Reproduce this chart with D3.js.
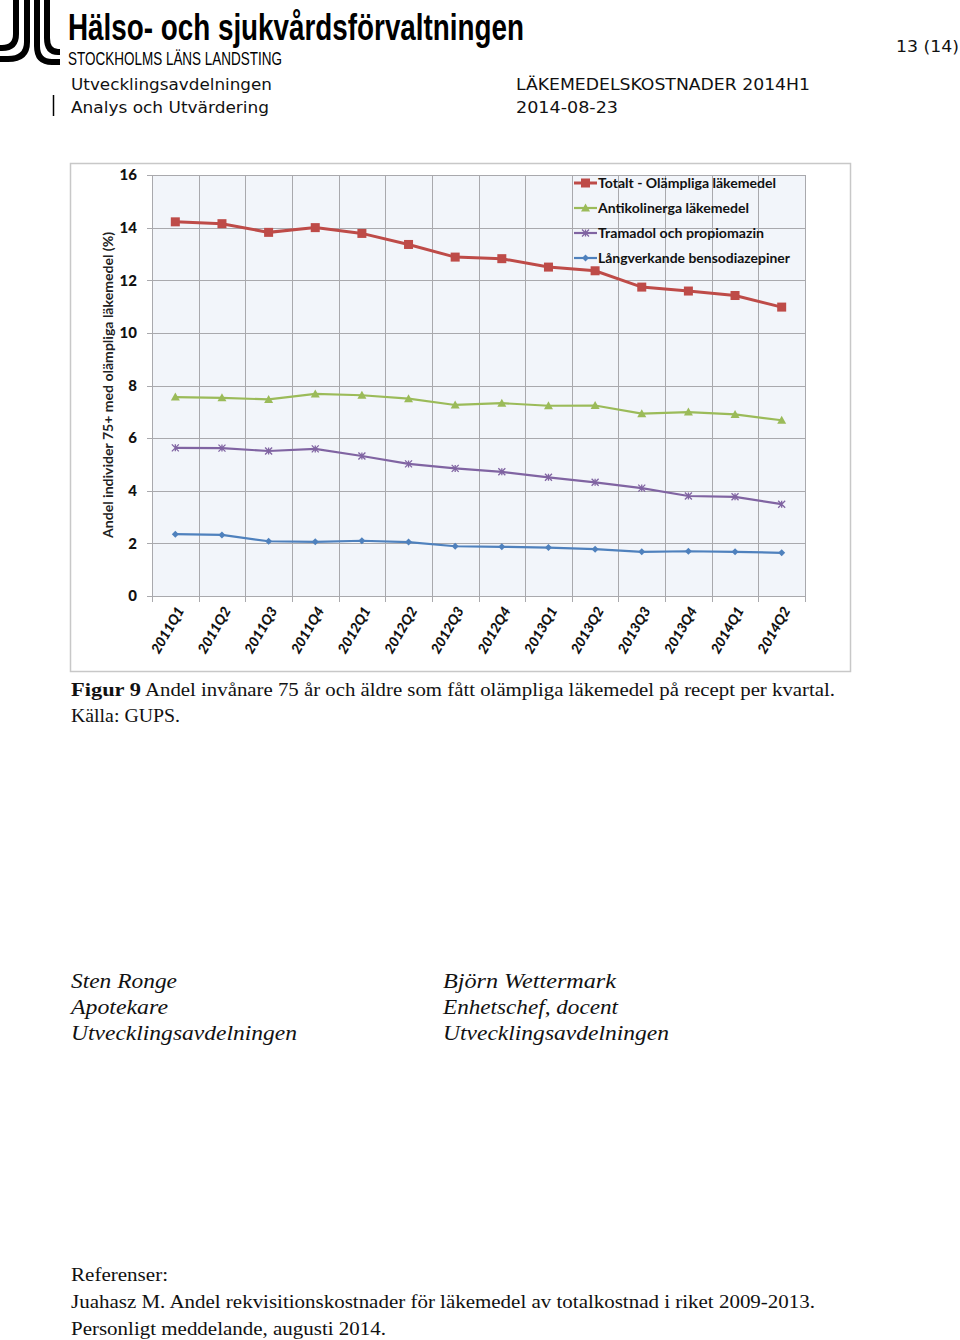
<!DOCTYPE html>
<html><head><meta charset="utf-8">
<script src="https://cdn.jsdelivr.net/npm/d3@7/dist/d3.min.js"></script>
<style>body{margin:0;background:#fff}svg{display:block}</style>
</head><body>
<script>
const categories = ["2011Q1","2011Q2","2011Q3","2011Q4","2012Q1","2012Q2","2012Q3","2012Q4","2013Q1","2013Q2","2013Q3","2013Q4","2014Q1","2014Q2"];
const totalt = [14.22,14.15,13.82,14.0,13.78,13.36,12.88,12.82,12.5,12.36,11.74,11.59,11.42,10.98];
const antikolinerga = [7.56,7.53,7.47,7.68,7.63,7.50,7.26,7.33,7.23,7.24,6.93,6.99,6.90,6.68];
const tramadol = [5.63,5.62,5.51,5.59,5.32,5.02,4.85,4.72,4.51,4.32,4.10,3.80,3.77,3.49];
const langverkande = [2.35,2.32,2.08,2.06,2.10,2.05,1.89,1.87,1.84,1.78,1.68,1.70,1.68,1.64];
const yTicks = [0,2,4,6,8,10,12,14,16];
const seriesNames = ["Totalt - Olämpliga läkemedel","Antikolinerga läkemedel","Tramadol och propiomazin","Långverkande bensodiazepiner"];

const W=960,H=1340;
const svg=d3.select("body").append("svg").attr("width",W).attr("height",H);

// ---------- header ----------
const logo=svg.append("g").attr("fill","none").attr("stroke","#000").attr("stroke-width",6);
logo.append("path").attr("d","M16,0 V34 Q16,48 2,48 H0");
logo.append("path").attr("d","M27,0 V42 Q27,59 8,59 H0");
logo.append("path").attr("d","M37,0 V46 Q37,62 52,62 H60");
logo.append("path").attr("d","M47,0 V38 Q47,52 58,52 H60");
svg.append("text").attr("x",68).attr("y",40).attr("font-family","Liberation Sans Narrow, Liberation Sans, sans-serif")
  .attr("font-weight","bold").attr("font-size",37).attr("textLength",456).attr("lengthAdjust","spacingAndGlyphs")
  .text("Hälso- och sjukvårdsförvaltningen");
svg.append("text").attr("x",68).attr("y",65).attr("font-family","Liberation Sans Narrow, Liberation Sans, sans-serif")
  .attr("font-size",18).attr("textLength",214).attr("lengthAdjust","spacingAndGlyphs")
  .text("STOCKHOLMS LÄNS LANDSTING");
const hdr=(x,y,t,len)=>svg.append("text").attr("x",x).attr("y",y).attr("font-family","DejaVu Sans, Verdana, sans-serif")
  .attr("font-size",16.5).attr("fill","#111").attr("textLength",len).attr("lengthAdjust","spacingAndGlyphs").text(t);
hdr(71,90,"Utvecklingsavdelningen",201);
hdr(71,113,"Analys och Utvärdering",198);
hdr(516,90,"LÄKEMEDELSKOSTNADER 2014H1",294);
hdr(516,113,"2014-08-23",102);
hdr(896,52,"13 (14)",63);
svg.append("line").attr("x1",53.5).attr("x2",53.5).attr("y1",95).attr("y2",116).attr("stroke","#000").attr("stroke-width",1.5);

// ---------- chart ----------
svg.append("rect").attr("x",70.5).attr("y",163.5).attr("width",780).attr("height",508)
  .attr("fill","#fff").attr("stroke","#c8c8c8").attr("stroke-width",1.5);

const x=d3.scaleBand().domain(categories).range([152,805]).paddingInner(0).paddingOuter(0);
const y=d3.scaleLinear().domain([0,16]).range([596,175]);
const cx=c=>x(c)+x.bandwidth()/2;

svg.append("rect").attr("x",152).attr("y",175).attr("width",653).attr("height",421).attr("fill","#f2f5fa");
const grid=svg.append("g").attr("stroke","#a9a9ad").attr("stroke-width",1);
yTicks.forEach(t=>grid.append("line").attr("x1",147).attr("x2",805).attr("y1",Math.round(y(t))+0.5).attr("y2",Math.round(y(t))+0.5));
const bounds=categories.map(c=>x(c)).concat([805]);
bounds.forEach(b=>grid.append("line").attr("x1",Math.round(b)+0.5).attr("x2",Math.round(b)+0.5).attr("y1",175).attr("y2",602));

// y tick labels
const yAxis=d3.axisLeft(y).tickValues(yTicks).tickSize(0).tickPadding(0);
const yg=svg.append("g").attr("transform","translate(137,0)").call(yAxis);
yg.select(".domain").remove();
yg.selectAll("text").attr("font-family","Lato, Liberation Sans, sans-serif").attr("font-weight","900").attr("font-size",15).attr("fill","#111");

// y title
svg.append("text").attr("transform","translate(113,385) rotate(-90)").attr("text-anchor","middle")
  .attr("font-family","Lato, Liberation Sans, sans-serif").attr("font-weight","bold").attr("font-size",13.5).attr("fill","#222")
  .attr("textLength",306).attr("lengthAdjust","spacingAndGlyphs")
  .text("Andel individer 75+ med olämpliga läkemedel (%)");

// x tick labels
const xAxis=d3.axisBottom(x).tickSize(0).tickPadding(0);
const xg=svg.append("g").attr("transform","translate(0,596)").call(xAxis);
xg.select(".domain").remove();
xg.selectAll(".tick text").attr("transform","translate(5,12) rotate(-60)").attr("text-anchor","end").attr("dy","0.35em").attr("y",0)
  .attr("font-family","Lato, Liberation Sans, sans-serif").attr("font-weight","900").attr("font-style","italic").attr("font-size",14).attr("fill","#111");

// series
const colors=["#be4b48","#9bbb59","#8064a2","#4f81bd"];
const data=[totalt,antikolinerga,tramadol,langverkande];
const widths=[3,2.2,2.2,2.2];
const line=d3.line().x((d,i)=>cx(categories[i])).y(d=>y(d));
function marker(g,k,px,py){
  if(k===0) g.append("rect").attr("x",px-4.5).attr("y",py-4.5).attr("width",9).attr("height",9).attr("fill",colors[0]);
  else if(k===1) g.append("path").attr("d",`M${px},${py-4.5}L${px+4.5},${py+3.5}L${px-4.5},${py+3.5}Z`).attr("fill",colors[1]);
  else if(k===2) g.append("path").attr("d",`M${px-3.5},${py-3.5}L${px+3.5},${py+3.5}M${px+3.5},${py-3.5}L${px-3.5},${py+3.5}M${px},${py-3.5}V${py+3.5}`).attr("stroke",colors[2]).attr("stroke-width",1.3).attr("fill","none");
  else g.append("path").attr("d",`M${px},${py-3.5}L${px+3.5},${py}L${px},${py+3.5}L${px-3.5},${py}Z`).attr("fill",colors[3]);
}
data.forEach((vals,k)=>{
  svg.append("path").datum(vals).attr("d",line).attr("fill","none").attr("stroke",colors[k]).attr("stroke-width",widths[k]);
  const g=svg.append("g");
  vals.forEach((v,i)=>marker(g,k,cx(categories[i]),y(v)));
});

// legend
const legendLens=[178,151,166,192];
const lg=svg.append("g");
seriesNames.forEach((n,k)=>{
  const ly=183+k*25;
  lg.append("line").attr("x1",574).attr("x2",597).attr("y1",ly).attr("y2",ly).attr("stroke",colors[k]).attr("stroke-width",widths[k]);
  marker(lg,k,585.5,ly);
  lg.append("text").attr("x",598).attr("y",ly).attr("dy","0.35em").attr("font-family","Lato, Liberation Sans, sans-serif")
    .attr("font-weight","bold").attr("font-size",13.5).attr("fill","#111")
    .attr("textLength",legendLens[k]).attr("lengthAdjust","spacingAndGlyphs").text(n);
});

// ---------- caption & body ----------
const serif="Liberation Serif, DejaVu Serif, serif";
const txt=(x0,y0,t,o)=>{const e=svg.append("text").attr("x",x0).attr("y",y0).attr("font-family",serif).attr("font-size",o.fs||19).attr("fill","#111").text(t);
  if(o.bold) e.attr("font-weight","bold"); if(o.it) e.attr("font-style","italic"); if(o.len) e.attr("textLength",o.len).attr("lengthAdjust","spacingAndGlyphs"); return e;};
txt(71,696,"Figur 9",{bold:true,len:70});
txt(145,696,"Andel invånare 75 år och äldre som fått olämpliga läkemedel på recept per kvartal.",{len:690});
txt(71,722,"Källa: GUPS.",{len:109});

txt(71,988,"Sten Ronge",{it:true,fs:21,len:106});
txt(71,1014,"Apotekare",{it:true,fs:21,len:97});
txt(71,1040,"Utvecklingsavdelningen",{it:true,fs:21,len:226});
txt(443,988,"Björn Wettermark",{it:true,fs:21,len:173});
txt(443,1014,"Enhetschef, docent",{it:true,fs:21,len:175});
txt(443,1040,"Utvecklingsavdelningen",{it:true,fs:21,len:226});

txt(71,1281,"Referenser:",{len:97});
txt(71,1308,"Juahasz M. Andel rekvisitionskostnader för läkemedel av totalkostnad i riket 2009-2013.",{len:744});
txt(71,1335,"Personligt meddelande, augusti 2014.",{len:315});
</script>
</body></html>
